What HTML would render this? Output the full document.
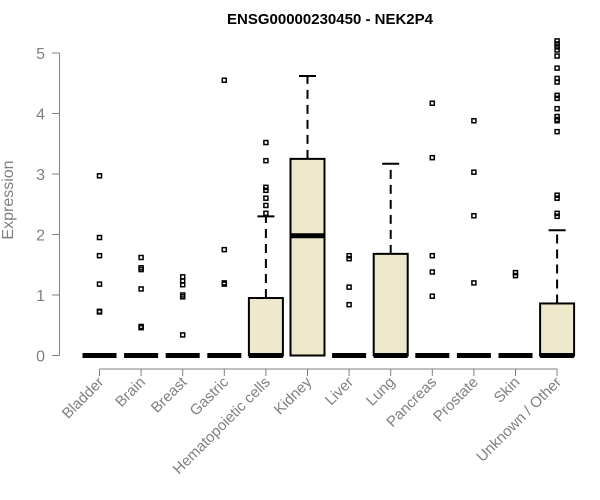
<!DOCTYPE html>
<html><head><meta charset="utf-8"><style>
html,body{margin:0;padding:0;background:#fff;}
svg{display:block;font-family:"Liberation Sans",sans-serif;}
</style></head><body>
<svg id="chart" width="600" height="500" viewBox="0 0 600 500">
<text x="330" y="24" text-anchor="middle" font-weight="bold" font-size="15">ENSG00000230450 - NEK2P4</text>
<text transform="translate(13,200) rotate(-90)" text-anchor="middle" font-size="16" fill="#808080">Expression</text>
<g id="yaxis"></g>
<g id="xaxis"></g>
<g id="boxes"></g>
</svg>
<script>
const categories = ["Bladder","Brain","Breast","Gastric","Hematopoietic cells","Kidney","Liver","Lung","Pancreas","Prostate","Skin","Unknown / Other"];
const q1 = [0,0,0,0,0,0,0,0,0,0,0,0];
const medians = [0,0,0,0,0,1.98,0,0,0,0,0,0];
const q3 = [0,0,0,0,0.95,3.25,0,1.68,0,0,0,0.86];
const whiskHigh = [0,0,0,0,2.3,4.62,0,3.17,0,0,0,2.07];
const outliers = [
 [2.97,1.95,1.65,1.18,0.73,0.72],
 [1.62,1.45,1.42,1.1,0.48,0.46],
 [1.3,1.23,1.17,1.0,0.97,0.34],
 [4.55,1.75,1.2,1.18],
 [3.52,3.22,2.78,2.73,2.6,2.48,2.35],
 [],
 [1.65,1.6,1.13,0.84],
 [],
 [4.17,3.27,1.65,1.38,0.98],
 [3.88,3.03,2.31,1.2],
 [1.37,1.32],
 [5.2,5.15,5.1,5.05,4.95,4.75,4.58,4.52,4.3,4.25,4.08,3.95,3.9,3.88,3.7,2.65,2.6,2.35,2.3]
];
const yTicks = [0,1,2,3,4,5];
const NS="http://www.w3.org/2000/svg";
function y(v){return 355.5 - v*60.5;}
function x(i){return 99.5 + i*41.6;}
function mk(tag,attrs,parent){const e=document.createElementNS(NS,tag);for(const k in attrs)e.setAttribute(k,attrs[k]);parent.appendChild(e);return e;}
const ya=document.getElementById('yaxis'), xa=document.getElementById('xaxis'), bx=document.getElementById('boxes');
mk('line',{x1:59.5,x2:59.5,y1:y(0),y2:y(5),stroke:'#808080'},ya);
yTicks.forEach(t=>{
 const l=mk('line',{x1:52,x2:59.5,y1:y(t),y2:y(t),stroke:'#808080'},ya);
 
 
 const tx=mk('text',{x:45,y:y(t)+6,'text-anchor':'end','font-size':16,fill:'#808080'},ya);
 tx.textContent=t;
 
 
});
mk('line',{x1:x(0),x2:x(categories.length-1),y1:369,y2:369,stroke:'#808080'},xa);
categories.forEach((c,i)=>{
 const l=mk('line',{x1:x(i),x2:x(i),y1:369,y2:376,stroke:'#808080'},xa);
 
 
 const tx=mk('text',{transform:`translate(${x(i)+5},${383}) rotate(-45)`,'text-anchor':'end','font-size':15,fill:'#808080'},xa);
 tx.textContent=c;
 
 
 const g=mk('g',{},bx);
 
 
 const cx=x(i), hw=17;
 if(q3[i]>q1[i]){
  mk('rect',{x:cx-hw,y:y(q3[i]),width:2*hw,height:y(q1[i])-y(q3[i]),fill:'#EEE8CD',stroke:'#000','stroke-width':2},g);
 }
 if(whiskHigh[i]>q3[i]){
  mk('line',{x1:cx,x2:cx,y1:y(q3[i]),y2:y(whiskHigh[i]),stroke:'#000','stroke-width':2,'stroke-dasharray':'9,6'},g);
  mk('line',{x1:cx-8.5,x2:cx+8.5,y1:y(whiskHigh[i]),y2:y(whiskHigh[i]),stroke:'#000','stroke-width':2},g);
 }
 mk('line',{x1:cx-hw,x2:cx+hw,y1:y(medians[i]),y2:y(medians[i]),stroke:'#000','stroke-width':5},g);
 outliers[i].forEach(v=>{
  const p=mk('rect',{x:cx-2,y:y(v)-2,width:4,height:4,fill:'none',stroke:'#000','stroke-width':1.5},g);
  
  
 });
});
</script>
</body></html>
